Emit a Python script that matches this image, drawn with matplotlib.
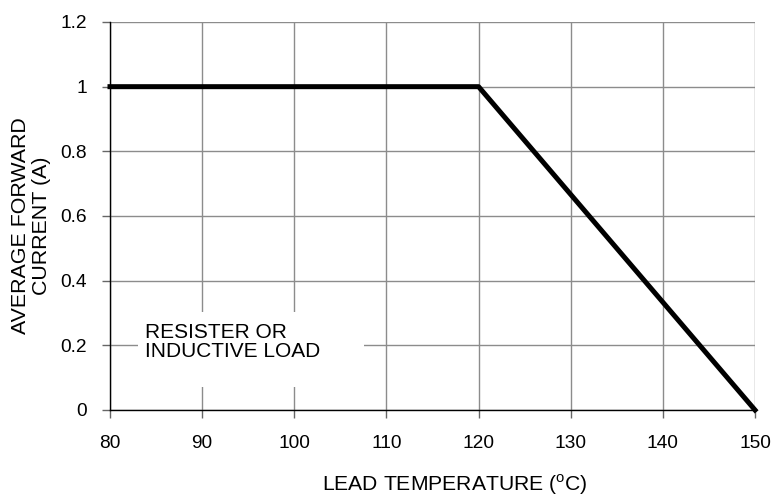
import matplotlib
matplotlib.use('Agg')
import matplotlib.pyplot as plt
from matplotlib.patches import Rectangle

plt.rcParams['font.family'] = ['Liberation Sans', 'DejaVu Sans']
plt.rcParams['mathtext.fontset'] = 'custom'
plt.rcParams['mathtext.rm'] = 'Liberation Sans'

# derating curve
temp = [80, 120, 150]
current = [1.0, 1.0, 0.0]
xticks = [80, 90, 100, 110, 120, 130, 140, 150]
yticks = [0, 0.2, 0.4, 0.6, 0.8, 1.0, 1.2]
ytick_labels = ['0', '0.2', '0.4', '0.6', '0.8', '1', '1.2']

W, H = 771, 500
fig = plt.figure(figsize=(W / 100, H / 100), dpi=100)
ax = fig.add_axes([110 / W, 1 - 410 / H, 645 / W, 388 / H])

ax.set_xlim(80, 150)
ax.set_ylim(0, 1.2)
ax.set_xticks(xticks)
ax.set_yticks(yticks)
ax.set_yticklabels(ytick_labels)
ax.grid(True, color='#8c8c8c', linewidth=1)
ax.set_axisbelow(True)
for s in ['top', 'right']:
    ax.spines[s].set_visible(False)
for s in ['left', 'bottom']:
    ax.spines[s].set_color('black')
    ax.spines[s].set_linewidth(1)
    ax.spines[s].set_zorder(4)
ax.tick_params(direction='out', length=5.8, width=1, color='#666666',
               labelsize=13.8)
ax.tick_params(axis='x', pad=12)
ax.tick_params(axis='y', pad=11)

# white box behind the note
ax.add_patch(Rectangle((138 / W, 1 - 387 / H), 226 / W, 75 / H,
                       transform=fig.transFigure, facecolor='white',
                       edgecolor='none', zorder=2))
fig.text(145 / W, 1 - 342 / H, 'RESISTER OR\nINDUCTIVE LOAD', fontsize=15,
         ha='left', va='center', linespacing=1.05, zorder=3)

ax.plot(temp, current, color='black', linewidth=3.6, clip_on=False, zorder=5)

fig.text(31 / W, 1 - 226 / H, 'AVERAGE FORWARD\nCURRENT (A)', rotation=90,
         fontsize=15.4, ha='center', va='center', linespacing=1.1)
fig.text(455 / W, 1 - 485 / H, r'LEAD TEMPERATURE ($^{\mathrm{o}}$C)',
         fontsize=15.2, ha='center', va='center')

fig.savefig('out.png', dpi=100)
